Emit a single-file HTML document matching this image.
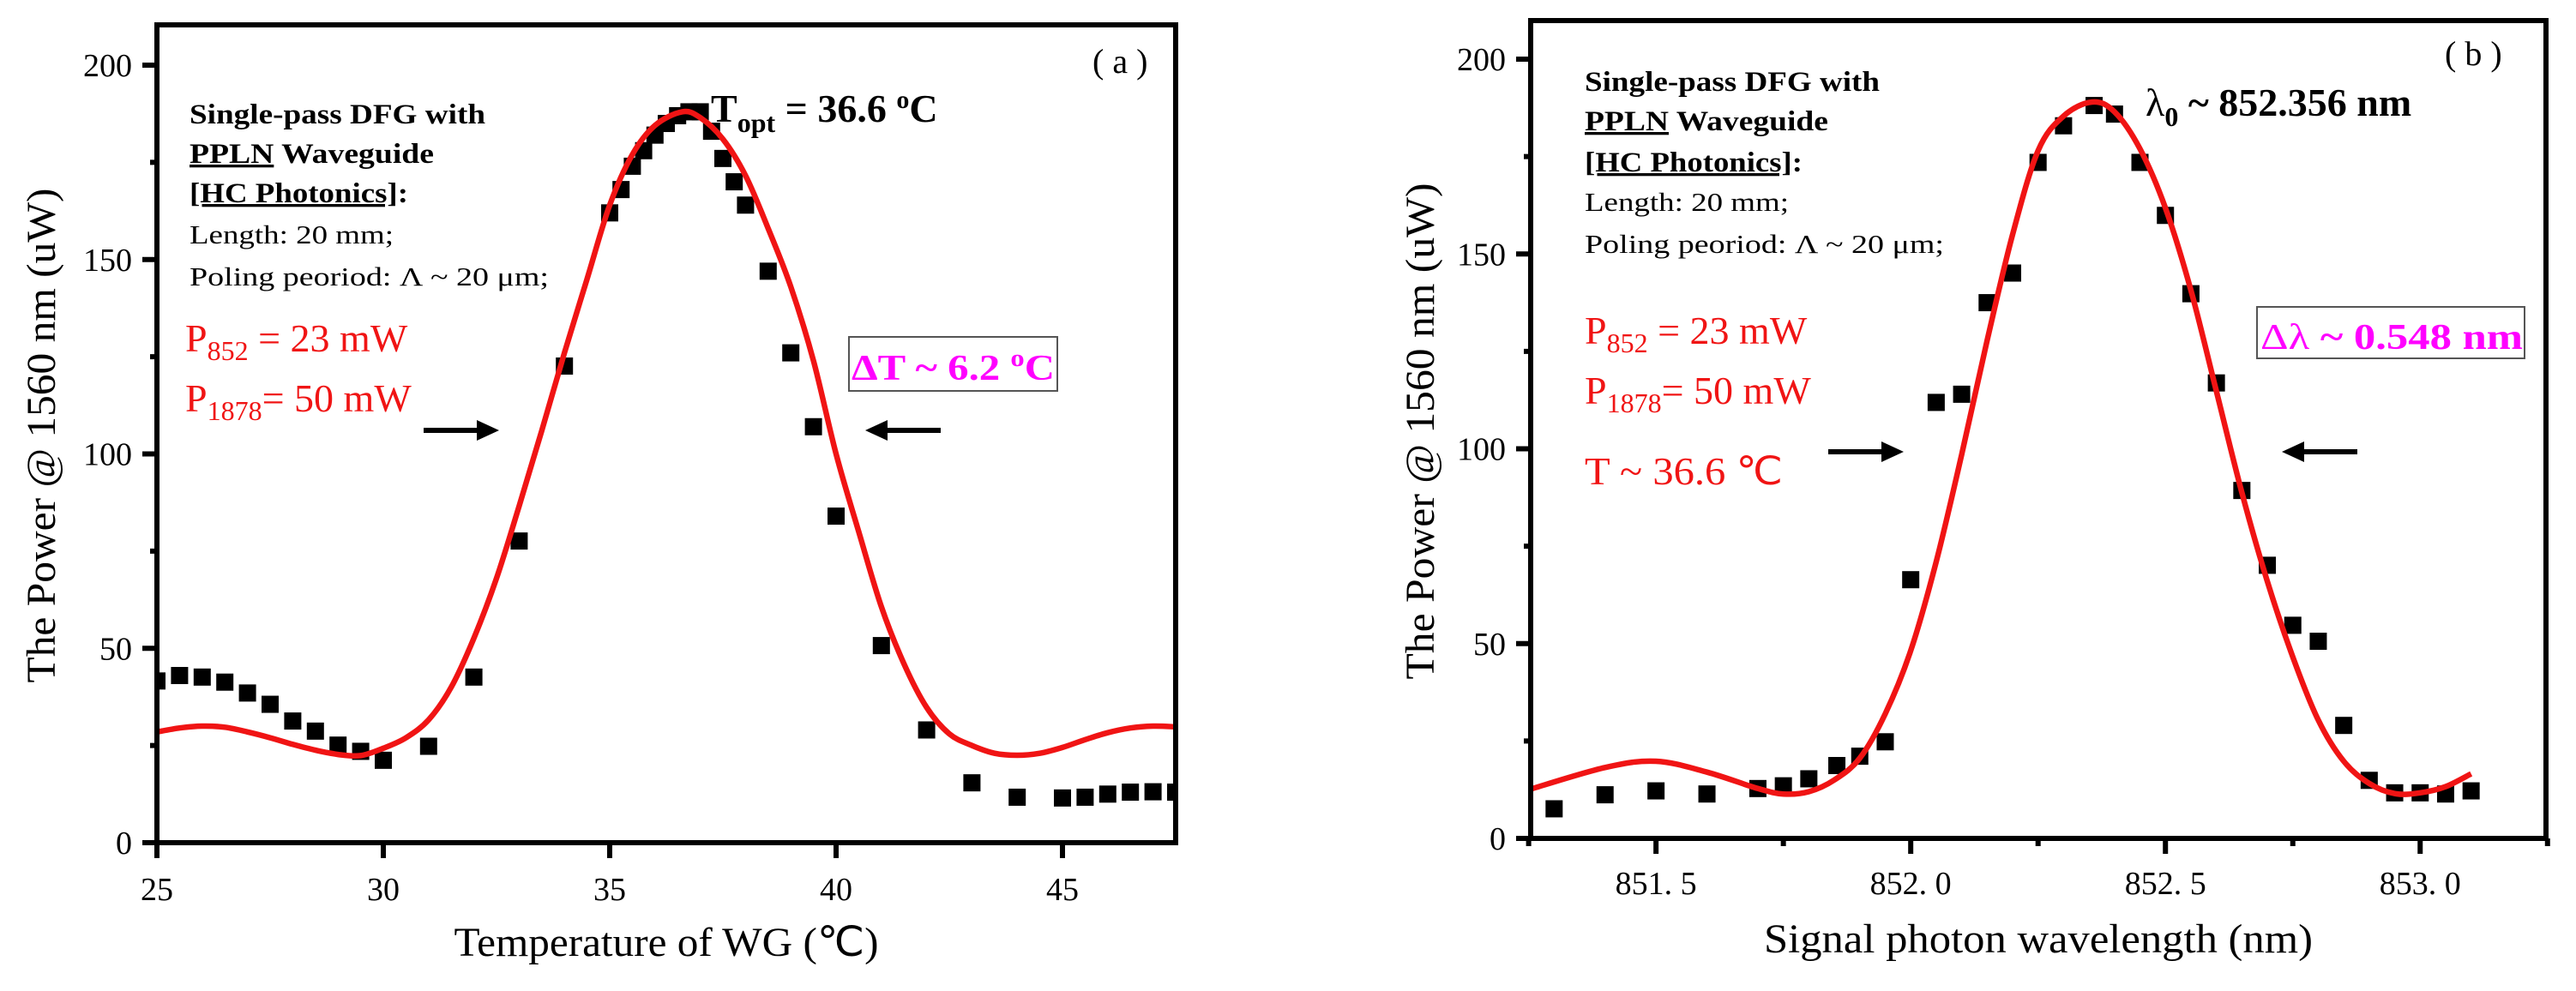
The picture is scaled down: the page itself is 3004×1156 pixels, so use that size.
<!DOCTYPE html>
<html><head><meta charset="utf-8"><style>
html,body{margin:0;padding:0;background:#fff;}
svg{display:block;font-family:"Liberation Serif",serif;}
</style></head><body>
<svg id="fig" width="3004" height="1156" viewBox="0 0 3004 1156" xmlns="http://www.w3.org/2000/svg">
<rect width="3004" height="1156" fill="#fff"/>
<g id="pa"></g>
<g id="pb"></g>

<!-- Panel a annotations -->
<g>
<text x="221" y="144" font-size="33" font-weight="bold" textLength="345" lengthAdjust="spacingAndGlyphs">Single-pass DFG with</text>
<text x="221" y="190" font-size="33" font-weight="bold" textLength="285" lengthAdjust="spacingAndGlyphs"><tspan text-decoration="underline">PPLN</tspan> Waveguide</text>
<text x="221" y="236" font-size="33" font-weight="bold" textLength="255" lengthAdjust="spacingAndGlyphs"><tspan text-decoration="underline">[HC Photonics]</tspan>:</text>
<text x="221" y="284" font-size="31" textLength="238" lengthAdjust="spacingAndGlyphs">Length: 20 mm;</text>
<text x="221" y="333" font-size="31" textLength="419" lengthAdjust="spacingAndGlyphs">Poling peoriod:  Λ ~ 20 μm;</text>
<text x="216" y="410" font-size="46" fill="#f01414">P<tspan font-size="32" dy="10">852</tspan><tspan dy="-10"> = 23 mW</tspan></text>
<text x="216" y="480" font-size="46" fill="#f01414">P<tspan font-size="32" dy="10">1878</tspan><tspan dy="-10">= 50 mW</tspan></text>
<text x="829" y="142" font-size="46" font-weight="bold">T<tspan font-size="32" dy="12">opt</tspan><tspan dy="-12"> = 36.6 </tspan><tspan font-size="30" dy="-16">o</tspan><tspan dy="16">C</tspan></text>
<text x="1274" y="85" font-size="40">( a )</text>
<rect x="990" y="393" width="243" height="63" fill="none" stroke="#555" stroke-width="2"/>
<text x="993" y="443" font-size="42" font-weight="bold" fill="#ff00ff" textLength="237" lengthAdjust="spacingAndGlyphs">ΔT ~ 6.2 <tspan font-size="28" dy="-16">o</tspan><tspan dy="16">C</tspan></text>
<g><line x1="494" y1="502" x2="560" y2="502" stroke="#000" stroke-width="6"/><polygon points="582,502 556,490 556,514" fill="#000"/></g>
<g><line x1="1097" y1="502" x2="1031" y2="502" stroke="#000" stroke-width="6"/><polygon points="1009,502 1035,490 1035,514" fill="#000"/></g>
<text x="777" y="1115" font-size="48" text-anchor="middle" textLength="495" lengthAdjust="spacingAndGlyphs">Temperature of WG (℃)</text>
<text transform="translate(64,508) rotate(-90)" font-size="48" text-anchor="middle" textLength="577" lengthAdjust="spacingAndGlyphs">The Power @ 1560 nm (uW)</text>
</g>

<!-- Panel b annotations -->
<g>
<text x="1848" y="106" font-size="33" font-weight="bold" textLength="344" lengthAdjust="spacingAndGlyphs">Single-pass DFG with</text>
<text x="1848" y="152" font-size="33" font-weight="bold" textLength="284" lengthAdjust="spacingAndGlyphs"><tspan text-decoration="underline">PPLN</tspan> Waveguide</text>
<text x="1848" y="200" font-size="33" font-weight="bold" textLength="254" lengthAdjust="spacingAndGlyphs"><tspan text-decoration="underline">[HC Photonics]</tspan>:</text>
<text x="1848" y="246" font-size="31" textLength="238" lengthAdjust="spacingAndGlyphs">Length: 20 mm;</text>
<text x="1848" y="295" font-size="31" textLength="419" lengthAdjust="spacingAndGlyphs">Poling peoriod:  Λ ~ 20 μm;</text>
<text x="1848" y="401" font-size="46" fill="#f01414">P<tspan font-size="32" dy="10">852</tspan><tspan dy="-10"> = 23 mW</tspan></text>
<text x="1848" y="471" font-size="46" fill="#f01414">P<tspan font-size="32" dy="10">1878</tspan><tspan dy="-10">= 50 mW</tspan></text>
<text x="1848" y="565" font-size="46" fill="#f01414" textLength="231" lengthAdjust="spacingAndGlyphs">T ~ 36.6 ℃</text>
<text x="2502" y="135" font-size="46" font-weight="bold"><tspan font-weight="normal">λ</tspan><tspan font-size="32" dy="12">0</tspan><tspan dy="-12"> ~ 852.356 nm</tspan></text>
<text x="2851" y="76" font-size="40">( b )</text>
<rect x="2632" y="358" width="312" height="60" fill="none" stroke="#555" stroke-width="2"/>
<text x="2636" y="407" font-size="42" font-weight="bold" fill="#ff00ff" textLength="306" lengthAdjust="spacingAndGlyphs"><tspan font-weight="normal">Δλ</tspan> ~ 0.548 nm</text>
<g><line x1="2132" y1="527" x2="2198" y2="527" stroke="#000" stroke-width="6"/><polygon points="2220,527 2194,515 2194,539" fill="#000"/></g>
<g><line x1="2749" y1="527" x2="2683" y2="527" stroke="#000" stroke-width="6"/><polygon points="2661,527 2687,515 2687,539" fill="#000"/></g>
<text x="2377" y="1111" font-size="48" text-anchor="middle" textLength="640" lengthAdjust="spacingAndGlyphs">Signal photon wavelength  (nm)</text>
<text transform="translate(1672,503) rotate(-90)" font-size="48" text-anchor="middle" textLength="579" lengthAdjust="spacingAndGlyphs">The Power @ 1560 nm (uW)</text>
</g>
</svg>
<script>
// ---- Panel a data ----
const tempA = [25,25.5,26,26.5,27,27.5,28,28.5,29,29.5,30,31,32,33,34,35,35.25,35.5,35.75,36,36.25,36.5,36.75,37,37.25,37.5,37.75,38,38.5,39,39.5,40,41,42,43,44,45,45.5,46,46.5,47,47.5];
const powerA = [41.6,43,42.6,41.3,38.5,35.6,31.3,28.7,25.1,23.5,21.2,24.8,42.6,77.6,122.6,162,168,174,178,182,185,187,188,188,183,176,170,164,147,126,107,84,50.7,29,15.4,11.7,11.5,11.7,12.5,13,13.1,13];
const fitTA = [25,25.5,26,26.5,27,27.5,28,28.5,29,29.5,30,30.5,31,31.5,32,32.5,33,33.5,34,34.5,35,35.5,36,36.6,37,37.5,38,38.5,39,39.5,40,40.5,41,41.5,42,42.5,43,43.5,44,44.5,45,45.5,46,46.5,47,47.5];
const fitPA = [28.5,29.5,30,29.7,28.5,27,25.3,23.8,22.7,22.4,24.3,27,31.6,40,52.6,68,86.6,106,126,145,164,177,184.5,188,186.5,181,171.6,158,143,124,100,80,60.7,46,34.8,28,25,23,22.5,23,24.5,26.5,28.3,29.5,30,29.8];
const xTicksA = [25,30,35,40,45];
const xTickLabelsA = ["25","30","35","40","45"];
const yTicksA = [0,50,100,150,200];
const yTickLabelsA = ["0","50","100","150","200"];
const yMinorA = [25,75,125,175];

// ---- Panel b data ----
const wlB = [851.30,851.40,851.50,851.60,851.70,851.75,851.80,851.855,851.90,851.95,852.00,852.05,852.10,852.15,852.20,852.25,852.30,852.36,852.40,852.45,852.50,852.55,852.60,852.65,852.70,852.75,852.80,852.85,852.90,852.95,853.00,853.05,853.10];
const powerB = [7.6,11.2,12.2,11.4,12.8,13.5,15.3,18.7,21.1,24.8,66.4,111.9,114,137.5,145.1,173.5,182.9,188.1,185.9,173.5,159.9,139.8,116.9,89.3,70.1,54.7,50.6,29,14.9,11.7,11.7,11.4,12.2];
const fitWB = [851.25,851.4,851.5,851.6,851.7,851.75,851.8,851.85,851.9,851.95,852.0,852.05,852.1,852.15,852.2,852.25,852.3,852.356,852.4,852.45,852.5,852.55,852.6,852.65,852.7,852.75,852.8,852.85,852.9,852.95,853.0,853.05,853.1];
const fitPB = [12.5,18.2,19.8,17,12.8,11.4,12,15,20.6,32,48.2,71,98.5,127.8,155,176.5,185.4,189,186.5,177,161.8,140.7,114.8,88.8,66,46.6,30.4,19.8,14.1,11.5,11.7,13.3,16.6];
const xTicksB = [851.5,852.0,852.5,853.0];
const xTickLabelsB = ["851. 5","852. 0","852. 5","853. 0"];
const xMinorB = [851.25,851.75,852.25,852.75,853.25];
const yTicksB = [0,50,100,150,200];
const yTickLabelsB = ["0","50","100","150","200"];
const yMinorB = [25,75,125,175];

const NS = "http://www.w3.org/2000/svg";
function mk(tag, attrs, parent){const e=document.createElementNS(NS,tag);for(const k in attrs)e.setAttribute(k,attrs[k]);parent.appendChild(e);return e;}
function smooth(pts){let d="M"+pts[0][0]+","+pts[0][1];for(let i=0;i<pts.length-1;i++){const p0=pts[i-1]||pts[i],p1=pts[i],p2=pts[i+1],p3=pts[i+2]||p2;const c1x=p1[0]+(p2[0]-p0[0])/6,c1y=p1[1]+(p2[1]-p0[1])/6,c2x=p2[0]-(p3[0]-p1[0])/6,c2y=p2[1]-(p3[1]-p1[1])/6;d+=" C"+c1x.toFixed(1)+","+c1y.toFixed(1)+" "+c2x.toFixed(1)+","+c2y.toFixed(1)+" "+p2[0].toFixed(1)+","+p2[1].toFixed(1);}return d;}

function panel(g, cfg){
  const sx=v=>cfg.L+(v-cfg.x0)/(cfg.x1-cfg.x0)*(cfg.R-cfg.L);
  const sy=v=>cfg.B-(v-cfg.y0)/(cfg.y1-cfg.y0)*(cfg.B-cfg.yTop200);
  // clip
  const cid="clip"+cfg.id;
  const defs=mk("defs",{},g);const cp=mk("clipPath",{id:cid},defs);mk("rect",{x:cfg.L,y:cfg.T,width:cfg.R-cfg.L,height:cfg.B-cfg.T},cp);
  // markers
  const mg=mk("g",{"clip-path":"url(#"+cid+")"},g);
  
  
  cfg.xs.forEach((x,i)=>{const r=mk("rect",{x:sx(x)-10,y:sy(cfg.ys[i])-10,width:20,height:20,fill:"#000"},mg);
    
    });
  const pts=cfg.fx.map((x,i)=>[sx(x),sy(cfg.fy[i])]);
  const fit=mk("path",{d:smooth(pts),fill:"none",stroke:"#f01414","stroke-width":6.5,"stroke-linejoin":"round","clip-path":"url(#"+cid+")"},g);
  
  
  // frame
  const fr=mk("rect",{x:cfg.L,y:cfg.T,width:cfg.R-cfg.L,height:cfg.B-cfg.T,fill:"none",stroke:"#000","stroke-width":6},g);
  
  
  // y ticks
  cfg.yt.forEach((v,i)=>{mk("line",{x1:cfg.L-17,x2:cfg.L,y1:sy(v),y2:sy(v),stroke:"#000","stroke-width":6},g);
    const t=mk("text",{x:cfg.L-29,y:sy(v)+13,"font-size":38,"text-anchor":"end"},g);t.textContent=cfg.ytl[i];
    
    });
  cfg.ym.forEach(v=>{mk("line",{x1:cfg.L-8,x2:cfg.L,y1:sy(v),y2:sy(v),stroke:"#000","stroke-width":6},g);});
  cfg.xt.forEach((v,i)=>{mk("line",{x1:sx(v),x2:sx(v),y1:cfg.B,y2:cfg.B+18,stroke:"#000","stroke-width":6},g);
    const t=mk("text",{x:sx(v),y:cfg.xlY,"font-size":38,"text-anchor":"middle"},g);t.textContent=cfg.xtl[i];
    
    });
  (cfg.xm||[]).forEach(v=>{mk("line",{x1:sx(v),x2:sx(v),y1:cfg.B,y2:cfg.B+9,stroke:"#000","stroke-width":6},g);});
}
panel(document.getElementById("pa"),{id:"a",L:183,R:1371,T:29,B:983,yTop200:76,x0:25,x1:47.5,y0:0,y1:200,
  xs:tempA,ys:powerA,fx:fitTA,fy:fitPA,xt:xTicksA,xtl:xTickLabelsA,yt:yTicksA,ytl:yTickLabelsA,ym:yMinorA,xlY:1050});
panel(document.getElementById("pb"),{id:"b",L:1785,R:2969,T:24,B:978,yTop200:69,x0:851.254,x1:853.247,y0:0,y1:200,
  xs:wlB,ys:powerB,fx:fitWB,fy:fitPB,xt:xTicksB,xtl:xTickLabelsB,xm:xMinorB,yt:yTicksB,ytl:yTickLabelsB,ym:yMinorB,xlY:1043});
</script>
</body></html>
